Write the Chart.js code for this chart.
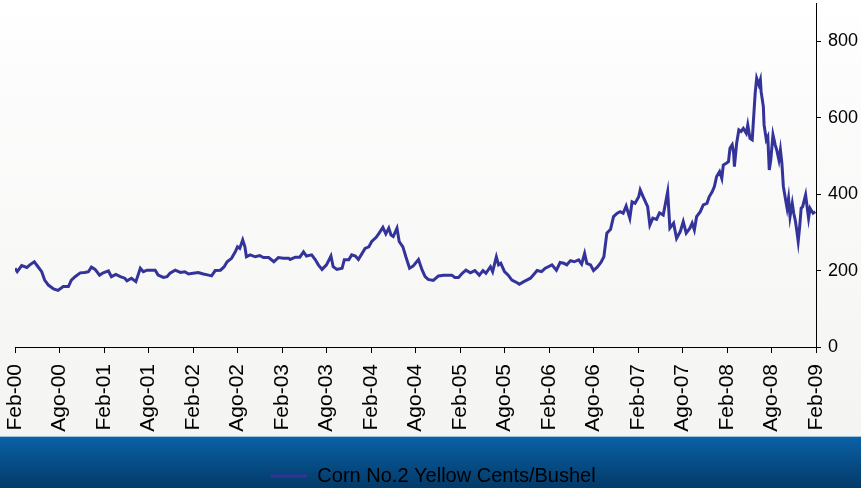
<!DOCTYPE html>
<html>
<head>
<meta charset="utf-8">
<script src="https://cdn.jsdelivr.net/npm/chart.js@4.4.0/dist/chart.umd.min.js"></script>
<style>
  html, body { margin: 0; padding: 0; background: #f6f6f4; }
  #wrap { width: 861px; height: 488px; }
</style>
</head>
<body>
<div id="wrap"><canvas id="cornChart" width="861" height="488"></canvas></div>
<script>
// Corn No.2 Yellow, cents per bushel, Feb-2000 .. Feb-2009
// months = months elapsed since Feb-00
const tickLabels = ["Feb-00", "Ago-00", "Feb-01", "Ago-01", "Feb-02", "Ago-02", "Feb-03", "Ago-03",
  "Feb-04", "Ago-04", "Feb-05", "Ago-05", "Feb-06", "Ago-06", "Feb-07", "Ago-07", "Feb-08", "Ago-08", "Feb-09"];

const months = [
  0, 0.3, 0.9, 1.6, 2.0, 2.6, 3.1, 3.6, 4.0, 4.5, 5.2, 5.8, 6.5, 7.2, 7.6, 8.1, 8.8, 9.4, 9.9, 10.3, 10.8, 11.4, 11.9,
  12.6, 13.0, 13.6, 14.2, 14.8, 15.1, 15.7, 16.3, 16.9, 17.3, 17.8, 18.4, 18.9, 19.3, 20.0, 20.5, 20.9, 21.6, 22.3, 22.9, 23.4,
  24.0, 24.7, 25.4, 26.1, 26.5, 27.0, 27.7, 28.2, 28.6, 29.2, 29.7, 30.0, 30.3, 30.7, 31.0, 31.2, 31.7, 32.4, 33.0, 33.5, 34.2, 34.9, 35.5,
  36.2, 36.9, 37.1, 37.8, 38.4, 38.9, 39.3, 40.0, 40.5, 40.9, 41.4, 42.0, 42.6, 42.9, 43.4, 44.1, 44.4, 45.0, 45.4, 45.9, 46.3, 46.8, 47.2, 47.7,
  48.1, 48.7, 49.1, 49.6, 50.0, 50.4, 50.7, 51.0, 51.5, 51.8, 52.3, 52.7, 53.2, 53.7, 54.4, 54.9, 55.3, 55.7,
  56.4, 57.1, 57.8, 58.4, 58.9, 59.3, 59.8, 60.3, 60.8, 61.4, 62.0, 62.6, 63.1, 63.5, 64.1, 64.4, 64.9, 65.2, 65.5, 66.0, 66.5, 67.0, 67.7,
  68.0, 68.6, 69.0, 69.5, 70.0, 70.4, 71.0, 71.5, 71.9, 72.4, 73.0, 73.5, 74.0, 74.4, 74.9, 75.4, 76.0, 76.4, 76.8, 77.1, 77.6, 78.0, 78.5, 79.0, 79.4, 79.8,
  80.3, 80.7, 81.2, 81.6, 82.0, 82.4, 82.9, 83.2, 83.6, 84.1, 84.3, 84.7, 85.3, 85.6, 86.0, 86.5, 86.9, 87.4, 88.0, 88.3, 88.8, 89.2, 89.7, 90.1, 90.5, 91.0, 91.3, 91.6, 91.9,
  92.4, 92.8, 93.3, 93.6, 94.0, 94.3, 94.6, 95.0, 95.3, 95.5, 95.9, 96.2, 96.4, 96.7, 96.9, 97.0, 97.3, 97.6, 97.9, 98.2, 98.6, 98.8, 99.1, 99.4, 99.6, 99.8,
  100.0, 100.3, 100.5, 100.6, 100.9, 101.0, 101.3, 101.5, 101.7, 101.9, 102.2, 102.5, 102.7, 103.0, 103.2, 103.4, 103.6, 103.9,
  104.1, 104.3, 104.5, 104.8, 105.0, 105.2, 105.4, 105.6, 105.8, 106.0, 106.2, 106.6, 106.8, 107.0, 107.2, 107.6, 107.9
];

const prices = [
  206, 197, 213, 208, 215, 223, 210, 197, 175, 162, 152, 148, 158, 158, 175, 184, 194, 195, 197, 209, 203, 188, 194,
  199, 184, 190, 184, 180, 173, 180, 171, 206, 197, 201, 201, 201, 188, 182, 184, 193, 201, 195, 197, 191,
  193, 195, 191, 188, 186, 200, 201, 210, 223, 232, 249, 262, 258, 280, 262, 236, 241, 236, 239, 234, 234, 223, 234,
  232, 232, 229, 235, 235, 249, 238, 241, 228, 215, 203, 215, 238, 210, 203, 206, 228, 228, 241, 238, 229, 245, 258, 262,
  276, 287, 298, 313, 296, 311, 293, 289, 311, 276, 262, 236, 206, 212, 229, 201, 184, 177,
  174, 186, 188, 188, 188, 182, 182, 193, 201, 194, 200, 188, 200, 193, 210, 197, 236, 215, 219, 197, 188, 175, 168,
  164, 171, 175, 180, 191, 200, 197, 206, 210, 215, 201, 221, 219, 215, 226, 223, 228, 217, 245, 219, 215, 200, 209, 221, 236, 298,
  308, 341, 350, 354, 350, 369, 337, 380, 376, 393, 411, 393, 367, 319, 337, 334, 351, 345, 406, 311, 324, 284, 302, 328, 298, 311, 324, 306, 341,
  354, 372, 376, 393, 406, 420, 446, 459, 441, 476, 481, 485, 520, 529, 507, 472, 533, 568, 564, 572, 559, 581, 546, 542, 603, 664,
  703, 686, 699, 668, 629, 581, 542, 550, 463, 489, 555, 529, 516, 489, 516, 481, 420, 385,
  363, 389, 341, 376, 350, 332, 306, 276, 315, 363, 367, 398, 367, 337, 363, 350, 354
];

const seriesName = "Corn No.2 Yellow Cents/Bushel";
const fontFamily = "'Liberation Sans', Arial, sans-serif";

// page backdrop: pale gradient behind the plot, blue band behind the legend
const backdrop = {
  id: "backdrop",
  beforeDraw(chart) {
    const { ctx, width, height } = chart;
    const bandTop = 436;
    ctx.save();
    const bg = ctx.createLinearGradient(0, 0, 0, bandTop);
    bg.addColorStop(0, "#ffffff");
    bg.addColorStop(0.2, "#fcfcfc");
    bg.addColorStop(1, "#f4f4f2");
    ctx.fillStyle = bg;
    ctx.fillRect(0, 0, width, bandTop);
    const band = ctx.createLinearGradient(0, bandTop, 0, height);
    band.addColorStop(0, "#0a62a8");
    band.addColorStop(1, "#033a68");
    ctx.fillStyle = band;
    ctx.fillRect(0, bandTop, width, height - bandTop);
    ctx.fillStyle = "#9cc4e0";
    ctx.fillRect(0, bandTop, width, 1);
    ctx.restore();
  }
};

// no automatic label padding, sizes are pinned instead
function noPad(scale) {
  scale.paddingTop = 0;
  scale.paddingBottom = 0;
  scale.paddingLeft = 0;
  scale.paddingRight = 0;
}

const points = prices.map((p, i) => ({ x: months[i], y: p }));

new Chart(document.getElementById("cornChart"), {
  type: "line",
  data: {
    datasets: [{
      label: seriesName,
      data: points,
      borderColor: "#333399",
      backgroundColor: "#333399",
      borderWidth: 3,
      pointRadius: 0,
      pointStyle: "line",
      tension: 0
    }]
  },
  plugins: [backdrop],
  options: {
    responsive: false,
    animation: false,
    layout: {
      autoPadding: false,
      padding: { left: 5, right: 0, top: 3, bottom: -8 }
    },
    plugins: {
      tooltip: { enabled: false },
      legend: {
        position: "bottom",
        labels: {
          usePointStyle: true,
          pointStyleWidth: 37,
          padding: 10,
          color: "#000000",
          font: { family: fontFamily, size: 20 }
        }
      }
    },
    scales: {
      x: {
        type: "linear",
        min: 0,
        max: 108,
        afterFit: (scale) => { scale.height = 109; noPad(scale); },
        grid: { drawOnChartArea: false, drawTicks: true, tickLength: 6, color: "#000000" },
        border: { display: true, color: "#000000", width: 1 },
        ticks: {
          stepSize: 6,
          autoSkip: false,
          minRotation: 90,
          maxRotation: 90,
          padding: 11,
          color: "#000000",
          font: { family: fontFamily, size: 21 },
          callback: (v) => tickLabels[Math.round(v / 6)]
        }
      },
      y: {
        position: "right",
        min: 0,
        max: 900,
        afterFit: (scale) => { scale.width = 45; noPad(scale); },
        grid: { drawOnChartArea: false, drawTicks: true, tickLength: 5, color: "#000000" },
        border: { display: true, color: "#000000", width: 1 },
        ticks: {
          stepSize: 200,
          includeBounds: false,
          padding: 7,
          color: "#000000",
          font: { family: fontFamily, size: 18 }
        }
      },
      // empty spacer on the left so the legend stays centred like the original
      spacer: {
        type: "linear",
        axis: "y",
        position: "left",
        afterFit: (scale) => { scale.width = 10; noPad(scale); },
        grid: { display: false },
        border: { display: false },
        ticks: { display: false }
      }
    }
  }
});
</script>
</body>
</html>
